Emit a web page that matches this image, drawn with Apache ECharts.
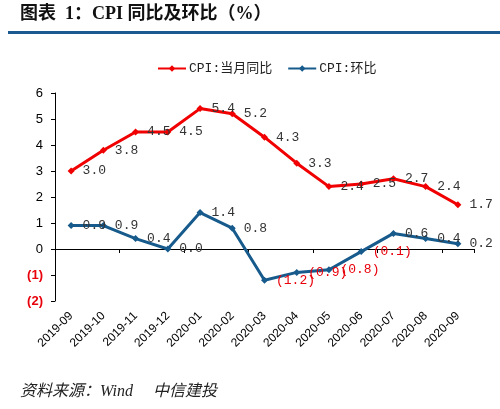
<!DOCTYPE html>
<html><head><meta charset="utf-8">
<script src="https://cdn.jsdelivr.net/npm/echarts@6/dist/echarts.min.js"></script>
<style>html,body{margin:0;padding:0;background:#fff}#c{width:500px;height:409px}</style>
</head><body><div id="c"></div>
<script>
var categories = ['2019-09','2019-10','2019-11','2019-12','2020-01','2020-02','2020-03','2020-04','2020-05','2020-06','2020-07','2020-08','2020-09'];
var yoyValues = [3.0,3.8,4.5,4.5,5.4,5.2,4.3,3.3,2.4,2.5,2.7,2.4,1.7];
var momValues = [0.9,0.9,0.4,0.0,1.4,0.8,-1.2,-0.9,-0.8,-0.1,0.6,0.4,0.2];
var yTicks = [-2,-1,0,1,2,3,4,5,6];
var seriesNames = ['CPI:当月同比','CPI:环比'];

var labelFont = '"Liberation Mono","Noto Sans CJK SC",monospace';
function fmt(v){ return v < 0 ? '(' + Math.abs(v).toFixed(1) + ')' : v.toFixed(1); }

var chart = echarts.init(document.getElementById('c'), null, {renderer:'canvas'});
chart.setOption({
  animation:false,
  backgroundColor:'#fff',
  graphic:[
    {type:'text', left:20, top:5, style:{text:'图表  1：CPI 同比及环比（%）', font:'bold 18px "Liberation Serif","Noto Sans CJK SC"', fill:'#111'}},
    {type:'rect', shape:{x:8,y:31,width:492,height:3}, style:{fill:'#1b5a91'}},
    {type:'text', left:20, top:384, style:{text:'资料来源：Wind     中信建投', font:'italic 16px "Liberation Serif","Noto Sans CJK SC"', fill:'#222'}}
  ],
  legend:{
    top:57, left:152, itemGap:15, itemWidth:28, itemHeight:8,
    textStyle:{fontFamily:labelFont, fontSize:13, color:'#222', padding:[0,0,0,-2]},
    data:seriesNames
  },
  grid:{left:55, right:26, top:93, bottom:108},
  xAxis:[
    {type:'category', data:categories, boundaryGap:true,
     axisLine:{onZero:true, lineStyle:{color:'#000', width:1}},
     axisTick:{show:true, length:4, lineStyle:{color:'#000'}},
     axisLabel:{show:false}},
    {type:'category', data:categories, boundaryGap:true, position:'bottom',
     axisLine:{show:false, onZero:false}, axisTick:{show:false},
     axisLabel:{rotate:45, fontFamily:'"Liberation Sans",Arial', fontSize:12, color:'#000', margin:13, interval:0}}
  ],
  yAxis:{
    type:'value', min:-2, max:6, interval:1,
    splitLine:{show:false},
    axisLine:{show:true, lineStyle:{color:'#000'}},
    axisTick:{show:true, length:4, inside:false, lineStyle:{color:'#000'}},
    axisLabel:{
      margin:12, fontFamily:'"Liberation Sans",Arial', fontSize:13,
      formatter:function(v){ return v<0 ? '{n|('+Math.abs(v)+')}' : String(v); },
      color:'#000',
      rich:{n:{color:'#e8000b', fontWeight:'bold', fontFamily:'"Liberation Sans",Arial', fontSize:13}}
    }
  },
  series:[
    {name:seriesNames[0], type:'line', data:yoyValues, xAxisIndex:0,
     symbol:'diamond', symbolSize:7,
     lineStyle:{color:'#f00000', width:3}, itemStyle:{color:'#f00000'},
     label:{show:true, position:'right', distance:8, color:'#333', fontFamily:labelFont, fontSize:13,
       formatter:function(p){return fmt(p.value);}}},
    {name:seriesNames[1], type:'line', data:momValues, xAxisIndex:0,
     symbol:'diamond', symbolSize:7,
     lineStyle:{color:'#175a8c', width:3}, itemStyle:{color:'#175a8c'},
     label:{show:true, position:'right', distance:8, color:'#333', fontFamily:labelFont, fontSize:13,
       formatter:function(p){ return p.value<0 ? '{neg|'+fmt(p.value)+'}' : fmt(p.value); },
       rich:{neg:{color:'#e8000b', fontFamily:labelFont, fontSize:13}}}}
  ]
});
</script></body></html>
